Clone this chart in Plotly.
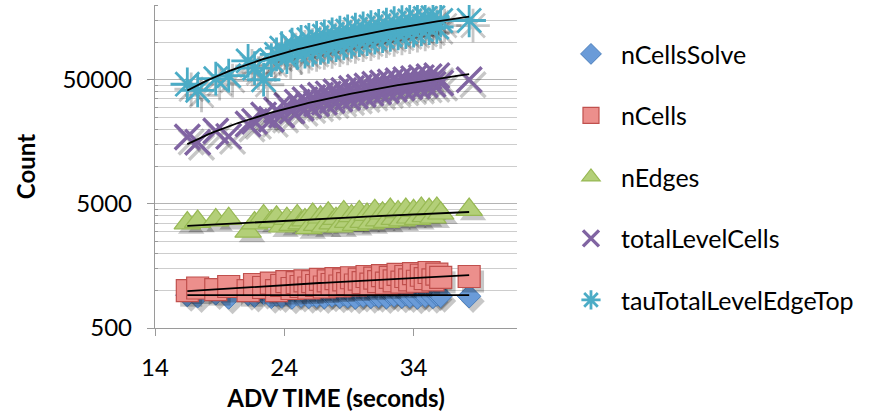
import numpy as np
import plotly.graph_objects as go

# ADV time (seconds) for each sample, shared by all series
adv_time = [16.5, 17.3, 18.7, 19.7, 21.2, 21.7, 22.4, 23.0, 23.4, 23.8, 24.2, 24.6,
            25.0, 25.3, 25.6, 25.9, 26.2, 26.5, 26.8, 27.1, 27.4, 27.7, 28.0, 28.3,
            28.6, 28.9, 29.2, 29.5, 29.8, 30.1, 30.4, 30.7, 31.0, 31.3, 31.6, 31.9,
            32.2, 32.5, 32.8, 33.1, 33.4, 33.7, 34.0, 34.3, 34.6, 34.9, 35.2, 35.5,
            35.8, 36.1, 38.3]

n_cells_solve = [920, 900, 950, 880, 940, 910, 960, 890, 930, 900,
                 950, 880, 940, 910, 970, 890, 930, 905, 955, 885,
                 945, 915, 960, 895, 935, 900, 950, 880, 940, 910,
                 965, 890, 930, 905, 955, 885, 945, 915, 960, 895,
                 935, 900, 950, 880, 940, 910, 965, 890, 930, 905, 900]

n_cells = [1000, 1050, 1020, 1080, 1000, 1120, 1060, 1150, 1000, 1100,
           1180, 1040, 1160, 1080, 1200, 1050, 1180, 1100, 1230, 1070,
           1200, 1120, 1250, 1090, 1220, 1140, 1270, 1110, 1240, 1160,
           1300, 1130, 1260, 1180, 1320, 1150, 1280, 1200, 1350, 1170,
           1300, 1220, 1370, 1190, 1330, 1250, 1400, 1220, 1360, 1280, 1300]

n_edges = [3500, 3600, 3700, 3800, 3000, 3500, 4000, 3600, 3900, 3300,
           3800, 3400, 4000, 3500, 3700, 3200, 4100, 3400, 3900, 3300,
           4200, 3500, 3800, 3300, 4300, 3600, 4000, 3400, 4300, 3600,
           4100, 3500, 4400, 3700, 4200, 3600, 4500, 3800, 4300, 3700,
           4500, 3900, 4400, 3800, 4600, 4000, 4500, 3900, 4600, 4200, 4500]

total_level_cells = [17300, 15700, 19300, 17500, 22000, 23100, 26000, 24000, 28500, 26000,
                     31000, 28000, 33000, 29500, 34500, 31000, 36000, 32000, 37500, 33000,
                     38500, 34000, 40000, 35000, 41000, 36000, 42500, 37000, 43500, 38000,
                     44500, 39000, 46000, 40000, 47000, 41000, 48000, 42000, 49000, 43000,
                     50000, 44000, 51000, 44500, 52000, 45500, 53000, 46000, 54000, 47000, 50000]

tau_total_level_edge_top = [46000, 41000, 51000, 54000, 71000, 62000, 50000, 72000, 80000, 90000,
                            76000, 96000, 82000, 101000, 84000, 105000, 87000, 109000, 90000, 112000,
                            92000, 116000, 95000, 120000, 98000, 123000, 101000, 127000, 104000, 130000,
                            106000, 133000, 109000, 136000, 112000, 139000, 115000, 143000, 118000, 146000,
                            121000, 149000, 124000, 152000, 127000, 156000, 130000, 158000, 133000, 150000,
                            150000]

y_tick_values = [500, 5000, 50000]
y_tick_labels = ["500", "5000", "50000"]
x_tick_values = [14, 24, 34]

FONT = "Lato, Calibri, sans-serif"

series = [
    dict(name="nCellsSolve", y=n_cells_solve,
         marker=dict(symbol="diamond", size=18, color="#6a9bd8",
                     line=dict(color="#4a7ebb", width=1))),
    dict(name="nCells", y=n_cells,
         marker=dict(symbol="square", size=22, color="#ec8f8c",
                     line=dict(color="#c0504d", width=1.2))),
    dict(name="nEdges", y=n_edges,
         marker=dict(symbol="triangle-up", size=23, color="#b3cf78",
                     line=dict(color="#98b954", width=1.2))),
    dict(name="totalLevelCells", y=total_level_cells,
         marker=dict(symbol="x-thin", size=25, color="#8064a2",
                     line=dict(color="#8064a2", width=3.4))),
    dict(name="tauTotalLevelEdgeTop", y=tau_total_level_edge_top,
         marker=dict(symbol="asterisk", size=28, color="#4bacc6",
                     line=dict(color="#4bacc6", width=2.8))),
]

fig = go.Figure()

# soft drop shadow beneath each marker (a few pixels down and right)
shadow_dx = 0.3                  # seconds  (~4 px)
shadow_fy = 10 ** (-5 / 123.5)   # log-axis factor (~5 px down)
for s in series:
    m = s["marker"]
    line_only = m["symbol"] in ("x-thin", "asterisk")
    shade = "rgba(0,0,0,0.22)"
    shadow_marker = dict(symbol=m["symbol"], size=m["size"], color=shade,
                         line=dict(color=shade if line_only else "rgba(0,0,0,0)",
                                   width=m["line"]["width"]))
    fig.add_trace(go.Scatter(
        x=[t + shadow_dx for t in adv_time],
        y=[v * shadow_fy for v in s["y"]],
        mode="markers", marker=shadow_marker,
        showlegend=False, hoverinfo="skip"))
    fig.add_trace(go.Scatter(
        x=adv_time, y=s["y"], mode="markers", name=s["name"],
        legendgroup=s["name"], marker=m))

# linear trend lines, drawn over the markers
t_lo, t_hi = min(adv_time), max(adv_time)
xs = np.linspace(t_lo, t_hi, 80)
for s in series:
    slope, icpt = np.polyfit(adv_time, s["y"], 1)
    fig.add_trace(go.Scatter(
        x=xs, y=slope * xs + icpt, mode="lines",
        line=dict(color="black", width=1.8),
        showlegend=False, hoverinfo="skip"))

# minor gridlines at multiples of 500 within each decade
minor_vals = [k * base for base in (500, 5000, 50000) for k in range(2, 10)]

fig.update_layout(
    width=881, height=420,
    margin=dict(l=155, r=364, t=5, b=92),
    paper_bgcolor="white", plot_bgcolor="white",
    font=dict(family=FONT, size=24, color="#000000"),
    showlegend=True,
    legend=dict(x=1.1215, y=0.919, xanchor="left", yanchor="top",
                font=dict(family=FONT, size=25, color="#000000"),
                tracegroupgap=26, itemwidth=50, bgcolor="rgba(0,0,0,0)"),
    xaxis=dict(range=[14, 42], tickvals=x_tick_values, ticks="outside",
               ticklen=7, tickcolor="#9a9a9a", showgrid=False, zeroline=False,
               showline=True, linecolor="#9a9a9a", linewidth=1.3,
               ticklabelstandoff=11,
               tickfont=dict(family=FONT, size=24),
               title=dict(text="<b>ADV TIME (seconds)</b>", standoff=10,
                          font=dict(family=FONT, size=24))),
    yaxis=dict(type="log", range=[np.log10(500), np.log10(200000)],
               tickvals=y_tick_values, ticktext=y_tick_labels,
               ticks="outside", ticklen=7, tickcolor="#9a9a9a",
               ticklabelstandoff=10,
               showgrid=True, gridcolor="#b4b4b4", gridwidth=1.3,
               zeroline=False, showline=True, linecolor="#9a9a9a", linewidth=1.3,
               tickfont=dict(family=FONT, size=24),
               minor=dict(tickvals=minor_vals, showgrid=True, gridcolor="#cdcdcd",
                          gridwidth=1, ticks="inside", ticklen=3, tickcolor="#9a9a9a"),
               title=dict(text="<b>Count</b>", standoff=20,
                          font=dict(family=FONT, size=24))),
)

fig.write_html("out.html")
